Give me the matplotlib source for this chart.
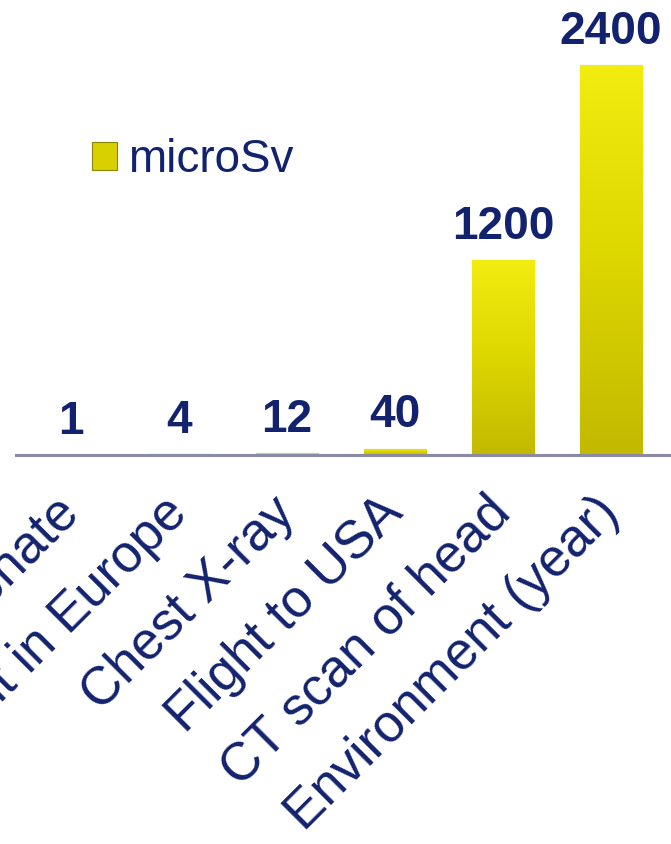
import numpy as np
import matplotlib.pyplot as plt
from matplotlib.patches import Patch
from matplotlib.colors import LinearSegmentedColormap

# data
categories = ['Bank note donate', 'Flight in Europe', 'Chest X-ray', 'Flight to USA',
              'CT scan of head', 'Environment (year)']
values = [1, 4, 12, 40, 1200, 2400]
series_name = 'microSv'

navy = '#12226e'
plt.rcParams['font.family'] = ['Liberation Sans', 'DejaVu Sans']

W, H = 671, 844
fig = plt.figure(figsize=(W / 100, H / 100), dpi=100)
ax = fig.add_axes([16 / W, 389 / H, 655 / W, 455 / H])

x = np.arange(len(categories))
bars = ax.bar(x, values, width=0.58, color='#e0d800', edgecolor='#9e9600', linewidth=0.8, zorder=2)

# vertical gradient on each bar, like the bevelled office style
cmap = LinearSegmentedColormap.from_list('yel', ['#c2b900', '#ddd600', '#f2ec10'])
grad = np.linspace(0, 1, 256).reshape(-1, 1)
for b in bars:
    x0, y0 = b.get_x(), b.get_y()
    w, h = b.get_width(), b.get_height()
    im = ax.imshow(grad, cmap=cmap, origin='lower', aspect='auto',
                   extent=[x0, x0 + w, y0, y0 + h], zorder=3)
    im.set_clip_path(b)

ax.set_xlim(-0.509, 5.556)
ax.set_ylim(0, 2800)

for xi, v in zip(x, values):
    ax.annotate(str(v), (xi, v), xytext=(0, 8), textcoords='offset points',
                ha='center', va='bottom', fontsize=33, fontweight='bold', color=navy)

for s in ['top', 'right', 'left']:
    ax.spines[s].set_visible(False)
ax.spines['bottom'].set_color('#8a8aa6')
ax.spines['bottom'].set_linewidth(2.2)
ax.spines['bottom'].set_zorder(4)
ax.set_yticks([])
ax.set_xticks(x)
ax.set_xticklabels(categories, rotation=45, ha='right', va='center', rotation_mode='anchor',
                   fontsize=38, color=navy)
ax.tick_params(axis='x', length=0, pad=36)

handle = Patch(facecolor='#d8d000', edgecolor='#8a8400', linewidth=0.8)
fig.legend([handle], [series_name], loc='center left', bbox_to_anchor=(51 / W, 684 / H),
           frameon=False, fontsize=33, handlelength=0.55, handleheight=0.55,
           handletextpad=0.24, labelcolor=navy)

fig.savefig('out.png', dpi=100)
